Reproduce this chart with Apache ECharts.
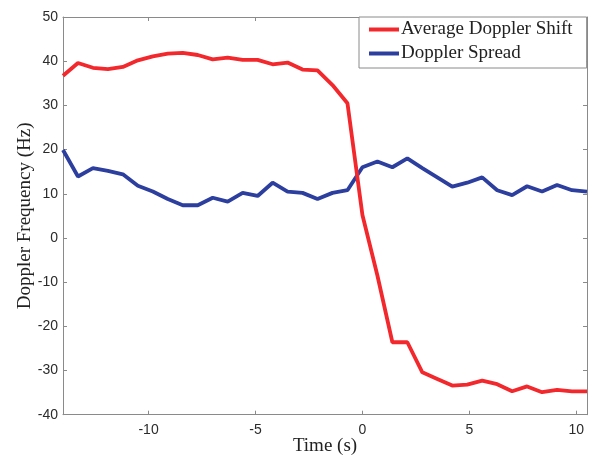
<!DOCTYPE html>
<html>
<head>
<meta charset="utf-8">
<script src="https://cdn.jsdelivr.net/npm/echarts@6/dist/echarts.min.js"></script>
<style>
  html, body { margin: 0; padding: 0; background: #fff; }
  #chart { width: 589px; height: 456px; }
</style>
</head>
<body>
<div id="chart"></div>
<script>
// Sample times (s)
const times = [-14, -13.3, -12.6, -11.9, -11.2, -10.5, -9.8, -9.1, -8.4, -7.7,
  -7, -6.3, -5.6, -4.9, -4.2, -3.5, -2.8, -2.1, -1.4, -0.7,
  0, 0.7, 1.4, 2.1, 2.8, 3.5, 4.2, 4.9, 5.6, 6.3,
  7, 7.7, 8.4, 9.1, 9.8, 10.5];

// Average Doppler shift (Hz)
const avgShift = [36.7, 39.6, 38.5, 38.2, 38.7, 40.2, 41.1, 41.7, 41.9, 41.4,
  40.4, 40.8, 40.3, 40.3, 39.3, 39.7, 38.1, 37.9, 34.6, 30.5,
  5.2, -8.5, -23.6, -23.6, -30.4, -31.9, -33.4, -33.2, -32.3, -33.1,
  -34.7, -33.6, -34.9, -34.4, -34.7, -34.7];

// Doppler spread (Hz)
const spread = [19.9, 13.9, 15.8, 15.2, 14.4, 11.8, 10.5, 8.8, 7.4, 7.4,
  9.1, 8.2, 10.2, 9.5, 12.5, 10.5, 10.2, 8.8, 10.2, 10.8,
  16.0, 17.3, 16.0, 18.0, 15.8, 13.7, 11.6, 12.5, 13.7, 10.8,
  9.7, 11.7, 10.5, 12.0, 10.8, 10.5];

const xTicks = [-10, -5, 0, 5, 10];

const seriesNames = ['Average Doppler Shift', 'Doppler Spread'];

const pair = (ys) => times.map((t, i) => [t, ys[i]]);

const frameColor = '#8a8a8a';
const labelFont = { fontFamily: 'Liberation Sans, Arial, sans-serif', fontSize: 14, color: '#2b2b2b' };
const serifFont = 'Liberation Serif, Times New Roman, serif';

const xBase = {
  type: 'value', min: -14, max: 10.5,
  splitLine: { show: false },
  axisLine: { show: true, onZero: false, lineStyle: { color: frameColor, width: 1 } },
  axisTick: { show: true, inside: true, length: 4, customValues: xTicks, lineStyle: { color: frameColor } }
};
const yBase = {
  type: 'value', min: -40, max: 50, interval: 10,
  splitLine: { show: false },
  axisLine: { show: true, onZero: false, lineStyle: { color: frameColor, width: 1 } },
  axisTick: { show: true, inside: true, length: 4, lineStyle: { color: frameColor } }
};

const chart = echarts.init(document.getElementById('chart'), null, { renderer: 'canvas' });
chart.setOption({
  animation: false,
  backgroundColor: '#ffffff',
  grid: { left: 63, right: 2, top: 17, bottom: 41.3, containLabel: false, outerBoundsMode: 'none' },
  xAxis: [
    Object.assign({}, xBase, {
      position: 'bottom',
      name: 'Time (s)',
      nameLocation: 'middle',
      nameGap: 22,
      nameMoveOverlap: false,
      nameTextStyle: { fontFamily: serifFont, fontSize: 19, color: '#222' },
      axisLabel: Object.assign({ show: true, margin: 8, customValues: xTicks }, labelFont)
    }),
    Object.assign({}, xBase, { position: 'top', axisLabel: { show: false } })
  ],
  yAxis: [
    Object.assign({}, yBase, {
      position: 'left',
      name: 'Doppler Frequency (Hz)',
      nameLocation: 'middle',
      nameGap: 28,
      nameMoveOverlap: false,
      nameTextStyle: { fontFamily: serifFont, fontSize: 19, color: '#222' },
      axisLabel: Object.assign({ show: true, margin: 5 }, labelFont)
    }),
    Object.assign({}, yBase, { position: 'right', axisLabel: { show: false } })
  ],
  legend: {
    show: true,
    orient: 'vertical',
    left: 359,
    top: 17,
    data: seriesNames,
    icon: 'rect',
    itemWidth: 30,
    itemHeight: 4,
    itemGap: 5,
    padding: [3, 14, 5, 10],
    backgroundColor: '#ffffff',
    borderColor: frameColor,
    borderWidth: 1,
    borderRadius: 0,
    textStyle: { fontFamily: serifFont, fontSize: 19, color: '#222', lineHeight: 18, padding: [0, 0, 0, -3] }
  },
  series: [
    {
      name: seriesNames[0], type: 'line', data: pair(avgShift),
      xAxisIndex: 0, yAxisIndex: 0, symbol: 'none', z: 3,
      color: '#f2282c',
      lineStyle: { color: '#f2282c', width: 3.8 }
    },
    {
      name: seriesNames[1], type: 'line', data: pair(spread),
      xAxisIndex: 0, yAxisIndex: 0, symbol: 'none', z: 2,
      color: '#2c3e9e',
      lineStyle: { color: '#2c3e9e', width: 3.8 }
    }
  ]
});
</script>
</body>
</html>
